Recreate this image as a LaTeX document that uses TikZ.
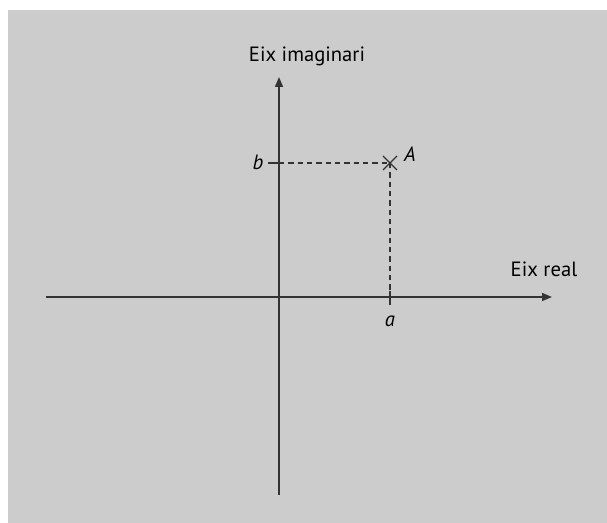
\documentclass[tikz,border=0pt]{standalone}
\usepackage{fontspec}
\setmainfont{PT Sans}
\usetikzlibrary{arrows.meta,calc}
\definecolor{bggray}{HTML}{CCCCCC}
\definecolor{linegray}{HTML}{333333}
\begin{document}
\begin{tikzpicture}[x=0.75pt,y=-0.75pt,
  axis/.style={draw=linegray,line width=1.2pt,-{Triangle[length=7.5pt,width=6pt]}},
  plain/.style={draw=linegray,line width=1.2pt},
  guide/.style={draw=linegray,line width=0.9pt,dash pattern=on 4pt off 3pt},
  lbl/.style={font=\fontsize{15.5}{18}\selectfont,text=black,inner sep=0pt},
  var/.style={font=\fontsize{15.5}{18}\selectfont\itshape,text=black,inner sep=0pt}]
\useasboundingbox (0,0) rectangle (607,523);
\fill[bggray] (8,10) rectangle (607,523);
% coordinates
\coordinate (xl) at (46,297);
\coordinate (xr) at (552,297);
\coordinate (yb) at (279,495);
\coordinate (yt) at (279,77);
\coordinate (bt) at (268,163);
\coordinate (bo) at (279,163);
\coordinate (A) at (390,163);
\coordinate (at) at (390,291);
\coordinate (ab) at (390,305);
% axes
\draw[axis] (xl) -- (xr);
\draw[axis] (yb) -- (yt);
% ticks
\draw[plain] (bt) -- (bo);
\draw[plain] (at) -- (ab);
% dashed guides
\draw[guide] (bo) -- (A);
\draw[guide] (A) -- (at);
% cross
\draw[plain,line width=1pt] ($(A)+(-7,-7)$) -- ($(A)+(7,7)$);
\draw[plain,line width=1pt] ($(A)+(-7,7)$) -- ($(A)+(7,-7)$);
% labels
\node[lbl] (ximag) at (307,56) {Eix imaginari};
\node[lbl] (xreal) at (544,269) {Eix real};
\node[var] (lb) at (258,162) {b};
\node[var] (la) at (390,321) {a};
\node[var] (lA) at (410,154) {A};
\end{tikzpicture}
\end{document}
